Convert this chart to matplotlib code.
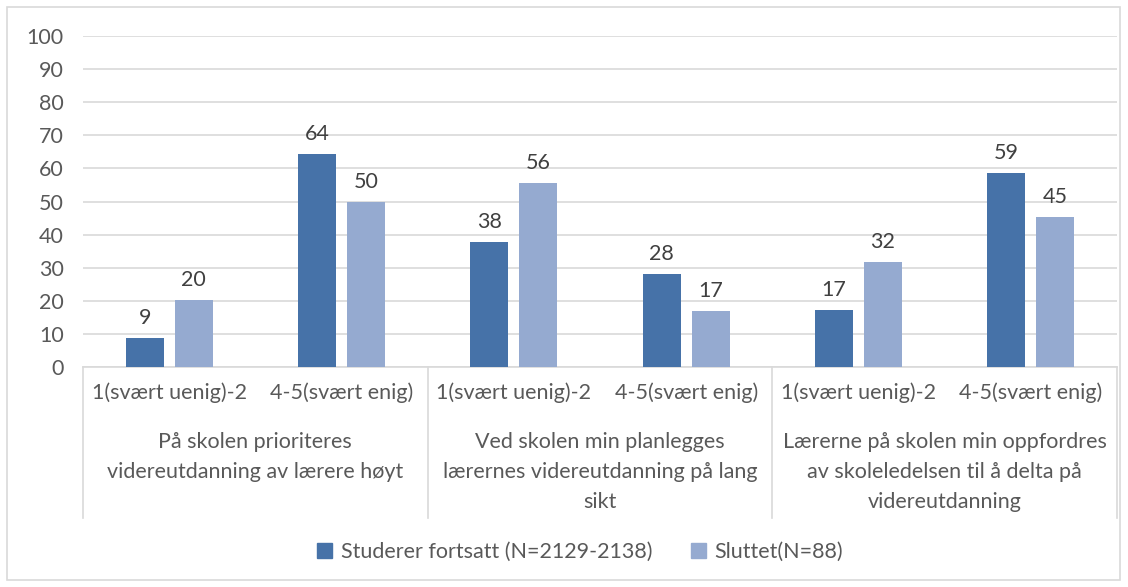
import matplotlib
matplotlib.use('Agg')
from matplotlib import pyplot as plt
from matplotlib.patches import Rectangle, Patch
import numpy as np

# data
ticks = ['1(svært uenig)-2', '4-5(svært enig)'] * 3
groups = ['På skolen prioriteres\nvidereutdanning av lærere høyt',
          'Ved skolen min planlegges\nlærernes videreutdanning på lang\nsikt',
          'Lærerne på skolen min oppfordres\nav skoleledelsen til å delta på\nvidereutdanning']
studerer = [8.8, 64.4, 37.8, 28.1, 17.2, 58.6]
sluttet = [20.2, 49.9, 55.6, 16.9, 31.7, 45.3]
series_names = ['Studerer fortsatt (N=2129-2138)', 'Sluttet(N=88)']

c_dark = '#4672A8'
c_light = '#95AAD0'
grid_c = '#D9D9D9'
txt_c = '#595959'
fs = 15.5

plt.rcParams['font.family'] = ['Lato', 'DejaVu Sans']

fig = plt.figure(figsize=(11.28, 5.87), dpi=100)
W, H = 1128, 587
# outer chart border
fig.patches.append(Rectangle((7 / W, 7 / H), 1113 / W, 573 / H, transform=fig.transFigure,
                             fill=False, edgecolor=grid_c, linewidth=1.2))

ax = fig.add_axes([83 / W, (H - 367) / H, (1117 - 83) / W, (367 - 36) / H])
x = np.arange(len(ticks))
bw = 0.22
off = 0.142
b1 = ax.bar(x - off, studerer, bw, color=c_dark, zorder=3)
b2 = ax.bar(x + off, sluttet, bw, color=c_light, zorder=3)
for bars in (b1, b2):
    for r in bars:
        h = r.get_height()
        ax.annotate('{0:.0f}'.format(h), (r.get_x() + r.get_width() / 2, h),
                    xytext=(0, 7), textcoords='offset points', ha='center', va='bottom',
                    fontsize=fs, color='#404040')

ax.set_xlim(-0.5, len(ticks) - 0.5)
ax.set_ylim(0, 100)
ax.set_yticks(range(0, 101, 10))
ax.yaxis.grid(True, color=grid_c, linewidth=1.2, zorder=0)
ax.tick_params(axis='y', length=0, labelsize=fs, labelcolor=txt_c, pad=14)
ax.set_xticks(x)
ax.set_xticklabels(ticks)
ax.tick_params(axis='x', length=0, labelsize=fs, labelcolor=txt_c, pad=11)
for s in ['top', 'right', 'left']:
    ax.spines[s].set_visible(False)
ax.spines['bottom'].set_color(grid_c)
ax.spines['bottom'].set_linewidth(1.2)

# multi-level category separators and group labels
trans = ax.get_xaxis_transform()
ybot = -(518 - 367) / (367 - 36)
for xs in [-0.5, 1.5, 3.5, 5.5]:
    ax.plot([xs, xs], [0, ybot], transform=trans, color=grid_c, linewidth=1.2, clip_on=False)
for i, g in enumerate(groups):
    ax.text(2 * i + 0.5, -(432 - 367) / (367 - 36), g, transform=trans, ha='center', va='top',
            fontsize=fs, color=txt_c, linespacing=1.62)

handles = [Patch(color=c_dark), Patch(color=c_light)]
leg = fig.legend(handles, series_names, loc='center', bbox_to_anchor=(580 / W, (H - 552) / H),
                 ncol=2, frameon=False, fontsize=fs, handlelength=0.7, handleheight=0.7,
                 handletextpad=0.4, columnspacing=1.8)
for t in leg.get_texts():
    t.set_color(txt_c)

fig.savefig('out.png', dpi=100)
